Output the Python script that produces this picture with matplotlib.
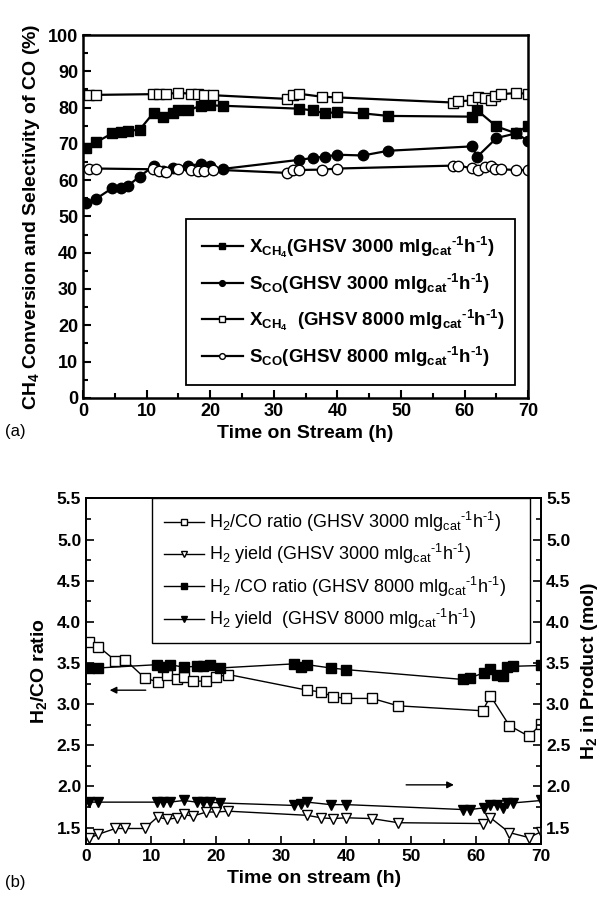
import matplotlib
matplotlib.use("Agg")
import matplotlib.pyplot as plt
from matplotlib.ticker import MultipleLocator

plt.rcParams["font.family"] = ["Liberation Sans", "DejaVu Sans"]
plt.rcParams["mathtext.default"] = "regular"

# ---- panel (a): conversion / selectivity ----
t_x3000 = [0.5, 2.0, 4.6, 6.0, 7.1, 8.9, 11.1, 12.5, 14.1, 15.0, 16.5, 18.5, 20.0, 22.0,
           34.0, 36.1, 38.1, 40.0, 44.0, 48.0, 61.1, 62.0, 65.0, 68.1, 69.9]
x_ch4_3000 = [68.8, 70.4, 72.9, 73.3, 73.6, 73.9, 78.6, 77.5, 78.4, 79.4, 79.2, 80.5, 80.6, 80.5,
              79.7, 79.2, 78.4, 78.8, 78.4, 77.7, 77.5, 79.2, 74.8, 72.9, 75.0]
t_s3000 = [0.4, 2.0, 4.6, 6.0, 7.1, 8.9, 11.1, 12.5, 14.1, 16.5, 18.5, 20.0, 22.0,
           34.0, 36.1, 38.1, 40.0, 44.0, 48.0, 61.1, 62.0, 65.0, 68.1, 69.9]
s_co_3000 = [53.7, 54.8, 57.8, 57.8, 58.5, 61.0, 63.9, 62.5, 63.3, 64.0, 64.4, 63.8, 63.1,
             65.6, 66.1, 66.5, 67.0, 66.8, 68.1, 69.3, 66.5, 71.6, 72.9, 70.9]
t_8000 = [1.0, 2.0, 11.0, 12.0, 13.0, 14.9, 17.0, 18.0, 19.0, 20.5, 32.0, 33.0, 34.0, 37.5, 40.0,
          58.1, 59.0, 61.1, 62.1, 63.2, 64.1, 64.8, 65.7, 68.1, 69.9]
x_ch4_8000 = [83.5, 83.5, 83.7, 83.7, 83.7, 84.1, 83.8, 83.8, 83.6, 83.4, 82.4, 83.5, 83.8, 83.0, 82.8,
              81.4, 81.7, 82.0, 83.0, 82.6, 82.1, 83.3, 83.7, 84.0, 83.8]
s_co_8000 = [63.2, 63.2, 63.0, 62.6, 62.3, 63.1, 62.8, 62.6, 62.5, 62.9, 62.0, 62.7, 62.8, 62.9, 63.2,
             64.0, 64.0, 63.3, 62.9, 63.6, 63.9, 63.1, 63.0, 62.8, 62.8]

# ---- panel (b): H2/CO ratio and H2 yield ----
t_3000b = [0.4, 1.9, 4.5, 6.0, 9.0, 11.0, 12.5, 14.0, 15.0, 16.4, 18.5, 20.0, 21.9,
           34.0, 36.1, 38.0, 40.0, 44.0, 48.0, 61.0, 62.2, 65.1, 68.1, 70.0]
ratio_3000 = [3.75, 3.70, 3.53, 3.54, 3.32, 3.27, 3.36, 3.30, 3.33, 3.28, 3.28, 3.33, 3.36,
              3.17, 3.15, 3.09, 3.07, 3.07, 2.98, 2.92, 3.10, 2.74, 2.61, 2.76]
yield_3000 = [1.37, 1.42, 1.49, 1.49, 1.49, 1.63, 1.60, 1.62, 1.66, 1.64, 1.69, 1.69, 1.70,
              1.65, 1.62, 1.61, 1.62, 1.61, 1.56, 1.55, 1.62, 1.44, 1.38, 1.45]
t_8000b = [0.4, 1.9, 10.9, 11.9, 12.9, 15.0, 17.0, 18.0, 19.0, 20.6, 32.0, 33.0, 34.0, 37.6, 40.0,
           58.0, 59.0, 61.2, 62.2, 63.2, 64.2, 64.8, 65.6, 70.0]
ratio_8000 = [3.44, 3.44, 3.48, 3.45, 3.48, 3.45, 3.46, 3.46, 3.48, 3.44, 3.49, 3.45, 3.48, 3.44, 3.42,
              3.30, 3.32, 3.38, 3.43, 3.36, 3.34, 3.45, 3.46, 3.47]
yield_8000 = [1.81, 1.81, 1.81, 1.81, 1.81, 1.83, 1.81, 1.81, 1.81, 1.80, 1.77, 1.79, 1.81, 1.78, 1.78,
              1.72, 1.72, 1.74, 1.78, 1.77, 1.74, 1.80, 1.80, 1.83]

unit = "mlg$_{cat}$$^{\u20101}$h$^{\u20101}$)"
labels_a = [r"X$_{CH_4}$(GHSV 3000 " + unit, r"S$_{CO}$(GHSV 3000 " + unit,
            r"X$_{CH_4}$  (GHSV 8000 " + unit, r"S$_{CO}$(GHSV 8000 " + unit]
labels_b = [r"H$_2$/CO ratio (GHSV 3000 " + unit, r"H$_2$ yield (GHSV 3000 " + unit,
            r"H$_2$ /CO ratio (GHSV 8000 " + unit, r"H$_2$ yield  (GHSV 8000 " + unit]

fig = plt.figure(figsize=(6.15, 8.98), dpi=100)

# ---------------- (a) ----------------
ax = fig.add_axes([0.135, 0.557, 0.724, 0.404])
kw = dict(color="black", lw=1.6, ms=7.5, mew=1.0)
ax.plot(t_x3000, x_ch4_3000, marker="s", mfc="black", mec="black", label=labels_a[0], **kw)
ax.plot(t_s3000, s_co_3000, marker="o", mfc="black", mec="black", label=labels_a[1], **kw)
ax.plot(t_8000, x_ch4_8000, marker="s", mfc="white", mec="black", label=labels_a[2], **kw)
ax.plot(t_8000, s_co_8000, marker="o", mfc="white", mec="black", label=labels_a[3], **kw)
ax.set_xlim(0, 70)
ax.set_ylim(0, 100)
ax.xaxis.set_major_locator(MultipleLocator(10))
ax.xaxis.set_minor_locator(MultipleLocator(5))
ax.yaxis.set_major_locator(MultipleLocator(10))
ax.yaxis.set_minor_locator(MultipleLocator(5))
ax.tick_params(which="both", direction="in", width=1.5, labelsize=13)
ax.tick_params(which="major", length=6)
ax.tick_params(which="minor", length=3.5)
for s in ax.spines.values():
    s.set_linewidth(1.8)
for lab in ax.get_xticklabels() + ax.get_yticklabels():
    lab.set_fontweight("bold")
ax.set_xlabel("Time on Stream (h)", fontsize=14, fontweight="bold", labelpad=4)
ax.set_ylabel("CH$_4$ Conversion and Selectivity of CO (%)", fontsize=14, fontweight="bold", labelpad=4)
leg = ax.legend(loc="upper left", bbox_to_anchor=(0.231, 0.493, 0.74, 0.0), mode="expand",
                borderaxespad=0, fancybox=False, edgecolor="black", framealpha=1,
                prop=dict(size=13.5, weight="bold"), markerscale=0.55, handlelength=2.2,
                handletextpad=0.3, labelspacing=0.63, borderpad=0.85)
leg.get_frame().set_linewidth(1.3)
fig.text(0.008, 0.515, "(a)", fontsize=12)

# ---------------- (b) ----------------
bx = fig.add_axes([0.140, 0.060, 0.740, 0.385])
bx2 = bx.twinx()
kw2 = dict(color="black", lw=1.0, ms=7.5, mew=1.0)
h1, = bx.plot(t_3000b, ratio_3000, marker="s", mfc="white", mec="black", **kw2)
h2, = bx2.plot(t_3000b, yield_3000, marker="v", mfc="white", mec="black", **kw2)
h3, = bx.plot(t_8000b, ratio_8000, marker="s", mfc="black", mec="black", **kw2)
h4, = bx2.plot(t_8000b, yield_8000, marker="v", mfc="black", mec="black", **kw2)
for a in (bx, bx2):
    a.set_xlim(0, 70)
    a.set_ylim(1.3, 5.5)
    a.yaxis.set_major_locator(MultipleLocator(0.5))
    a.yaxis.set_minor_locator(MultipleLocator(0.25))
    a.tick_params(which="both", direction="in", width=1.2, labelsize=12.5)
    a.tick_params(which="major", length=6)
    a.tick_params(which="minor", length=3.5)
bx.xaxis.set_major_locator(MultipleLocator(10))
bx.xaxis.set_minor_locator(MultipleLocator(5))
bx.yaxis.set_major_formatter(plt.FormatStrFormatter("%.1f"))
bx2.yaxis.set_major_formatter(plt.FormatStrFormatter("%.1f"))
for s in list(bx.spines.values()) + list(bx2.spines.values()):
    s.set_linewidth(1.3)
for lab in bx.get_xticklabels() + bx.get_yticklabels() + bx2.get_yticklabels():
    lab.set_fontweight("bold")
bx.set_xlabel("Time on stream (h)", fontsize=14, fontweight="bold", labelpad=4)
bx.set_ylabel("H$_2$/CO ratio", fontsize=14, fontweight="bold", labelpad=6)
bx2.set_ylabel("H$_2$ in Product (mol)", fontsize=14, fontweight="bold", labelpad=6)
bx.annotate("", xy=(3.2, 3.17), xytext=(9.6, 3.17),
            arrowprops=dict(arrowstyle="-|>", color="black", lw=1.0, mutation_scale=10))
bx2.annotate("", xy=(57.0, 2.02), xytext=(48.8, 2.02),
             arrowprops=dict(arrowstyle="-|>", color="black", lw=1.0, mutation_scale=10))
leg2 = bx2.legend([h1, h2, h3, h4], labels_b, loc="upper left",
                  bbox_to_anchor=(0.145, 1.0, 0.831, 0.0), mode="expand",
                  borderaxespad=0, fancybox=False, edgecolor="black", framealpha=1,
                  prop=dict(size=13), markerscale=0.6, handlelength=2.2,
                  handletextpad=0.3, labelspacing=0.45, borderpad=0.65)
leg2.get_frame().set_linewidth(1.0)
fig.text(0.008, 0.012, "(b)", fontsize=12)

fig.savefig("out.png", dpi=100)
